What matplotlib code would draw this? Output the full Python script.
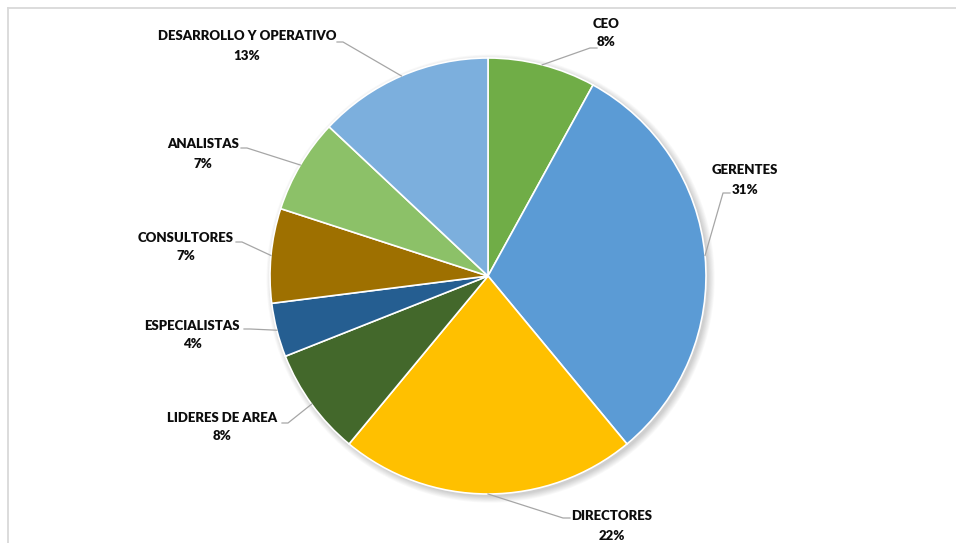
import numpy as np
import matplotlib
matplotlib.use("Agg")
import matplotlib.pyplot as plt
from matplotlib.lines import Line2D
from matplotlib.patches import Circle

# Staff distribution by role (percent of total)
categories = ["CEO", "GERENTES", "DIRECTORES", "LIDERES DE AREA",
              "ESPECIALISTAS", "CONSULTORES", "ANALISTAS",
              "DESARROLLO Y OPERATIVO"]
shares = [8, 31, 22, 8, 4, 7, 7, 13]
colors = ["#70AD47", "#5B9BD5", "#FFC000", "#43682B",
          "#255E91", "#9E7000", "#8CC168", "#7CAFDD"]

W, H, DPI = 956, 543, 100
CX, CY, R = 488, 276, 218  # pie centre and radius in pixels


def px(x, y):
    """Pixel position (from top-left) to data coordinates of the pie axes."""
    return (x - CX) / R, (CY - y) / R


# label block centre, leader elbow and leader end, in pixels
label_layout = {
    "CEO": ((606, 33), (590, 48), (597, 48)),
    "GERENTES": ((745, 180), (723, 193), (730, 193)),
    "DIRECTORES": ((612, 526), (563, 518), (570, 518)),
    "LIDERES DE AREA": ((222, 427), (288, 423), (282, 423)),
    "ESPECIALISTAS": ((192, 335), (250, 329), (244, 329)),
    "CONSULTORES": ((186, 247), (242, 242), (236, 242)),
    "ANALISTAS": ((203, 154), (247, 148), (241, 148)),
    "DESARROLLO Y OPERATIVO": ((247, 46), (343, 42), (337, 42)),
}

fig = plt.figure(figsize=(W / DPI, H / DPI), dpi=DPI)
fig.patch.set_facecolor("white")

# chart area frame (only left and top edges fall inside the image)
fig.add_artist(Line2D([7.5 / W, 7.5 / W], [0, 1 - 8 / H], color="#d9d9d9", lw=1.3))
fig.add_artist(Line2D([7.5 / W, 1], [1 - 8 / H, 1 - 8 / H], color="#d9d9d9", lw=1.3))

ax = fig.add_axes([0, 0, 1, 1])

# soft shadow under the pie
for k in range(8):
    ax.add_patch(Circle((0.012, -0.012), 1.0 + 0.004 * k, color="black",
                        alpha=0.025, lw=0, zorder=0))

wedges, _ = ax.pie(shares, colors=colors, startangle=90, counterclock=False,
                   radius=1.0, center=(0, 0),
                   wedgeprops=dict(edgecolor="white", linewidth=1.2))
for w in wedges:
    w.set_zorder(2)

x0, y1 = px(0, 0)
x1, y0 = px(W, H)
ax.set_xlim(x0, x1)
ax.set_ylim(y0, y1)
ax.set_aspect("equal")
ax.axis("off")

font = dict(family=["Lato", "DejaVu Sans"],
            weight="heavy", fontsize=9.5, color="#0d0d0d")

total = sum(shares)
for wdg, cat, val in zip(wedges, categories, shares):
    mid = np.deg2rad((wdg.theta1 + wdg.theta2) / 2)
    sx, sy = np.cos(mid), np.sin(mid)
    (lx, ly), elbow, end = label_layout[cat]
    ex, ey = px(*elbow)
    tx, ty = px(*end)
    ax.plot([sx, ex, tx], [sy, ey, ty], color="#a6a6a6", lw=0.9, zorder=3)
    cx, cy = px(lx, ly)
    ax.text(cx, cy, f"{cat}\n{round(100 * val / total)}%", ha="center",
            va="center", linespacing=1.7, zorder=4, **font)

fig.savefig("out.png", dpi=DPI, facecolor="white")
